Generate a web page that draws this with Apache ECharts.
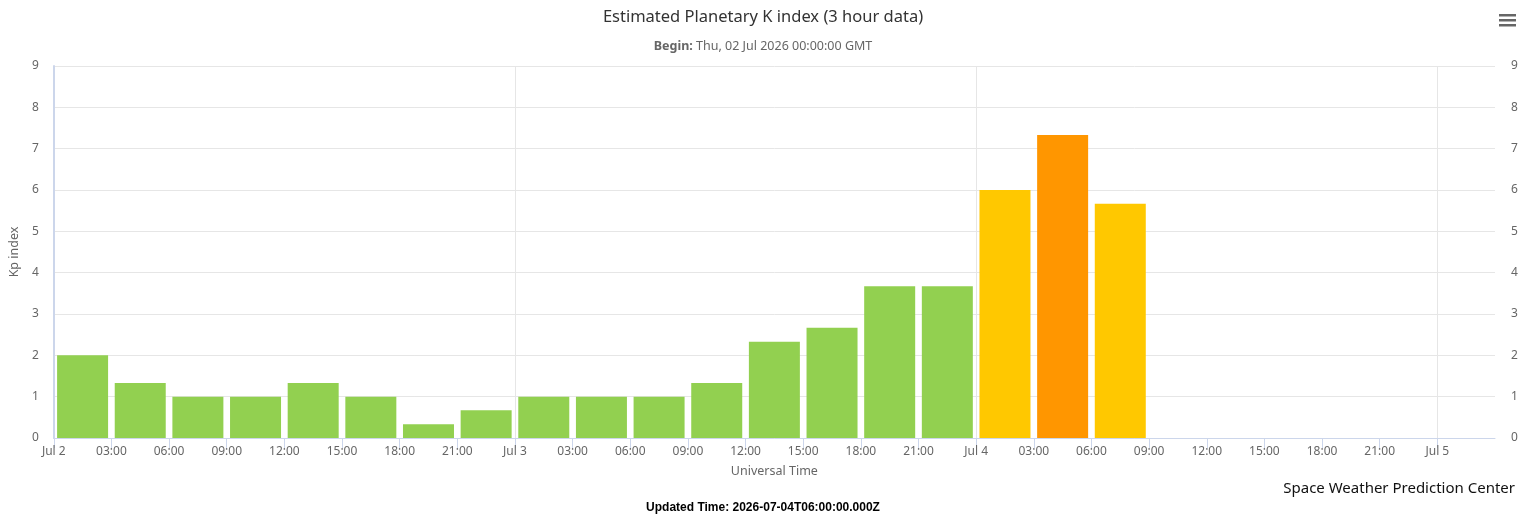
<!DOCTYPE html>
<html>
<head>
<meta charset="utf-8">
<script src="https://cdn.jsdelivr.net/npm/echarts@6/dist/echarts.min.js"></script>
<style>
  html, body { margin: 0; padding: 0; background: #fff; }
  #kp-chart { width: 1526px; height: 516px; }
</style>
</head>
<body>
<div id="kp-chart"></div>
<script>
// 3 hour bins, start time of each bin (UTC)
const binStarts = [
    '2026-07-02T00:00:00Z', '2026-07-02T03:00:00Z', '2026-07-02T06:00:00Z', '2026-07-02T09:00:00Z',
    '2026-07-02T12:00:00Z', '2026-07-02T15:00:00Z', '2026-07-02T18:00:00Z', '2026-07-02T21:00:00Z',
    '2026-07-03T00:00:00Z', '2026-07-03T03:00:00Z', '2026-07-03T06:00:00Z', '2026-07-03T09:00:00Z',
    '2026-07-03T12:00:00Z', '2026-07-03T15:00:00Z', '2026-07-03T18:00:00Z', '2026-07-03T21:00:00Z',
    '2026-07-04T00:00:00Z', '2026-07-04T03:00:00Z', '2026-07-04T06:00:00Z'
];
const kpValues = [
    2, 1.33, 1, 1, 1.33, 1, 0.33, 0.67,
    1, 1, 1, 1.33, 2.33, 2.67, 3.67, 3.67,
    6, 7.33, 5.67
];
const monthNames = ['Jan', 'Feb', 'Mar', 'Apr', 'May', 'Jun', 'Jul', 'Aug', 'Sep', 'Oct', 'Nov', 'Dec'];

const HOUR = 3600 * 1000;
const axisStart = Date.UTC(2026, 6, 2, 0);
const axisEnd = Date.UTC(2026, 6, 5, 3);

function kpColor(kp) {
    if (kp >= 7) {
        return '#ff9600';
    }
    if (kp >= 5) {
        return '#ffc800';
    }
    return '#92d050';
}

function timeLabel(value) {
    let d = new Date(value);
    if (d.getUTCHours() == 0) {
        return monthNames[d.getUTCMonth()] + ' ' + d.getUTCDate();
    }
    let h = d.getUTCHours();
    return (h < 10 ? '0' + h : h) + ':00';
}

// bars are centred in the middle of their 3 hour bin
let barData = [];
for (let i = 0; i < binStarts.length; i++) {
    let t = Date.parse(binStarts[i]) + 1.5 * HOUR;
    barData.push({
        value: [t, kpValues[i]],
        itemStyle: { color: kpColor(kpValues[i]) }
    });
}

let kpChart = echarts.init(document.getElementById('kp-chart'));
let fontMain = '"Noto Sans", "DejaVu Sans", sans-serif';

let option = {
    animation: false,
    textStyle: { fontFamily: fontMain },
    title: [
        {
            text: 'Estimated Planetary K index (3 hour data)',
            left: 'center',
            top: 4,
            textStyle: { fontSize: 16.5, fontWeight: 'normal', color: '#333', fontFamily: fontMain }
        },
        {
            text: '{b|Begin:} Thu, 02 Jul 2026 00:00:00 GMT',
            left: 'center',
            top: 35,
            textStyle: {
                fontSize: 12.5, fontWeight: 'normal', color: '#666', fontFamily: fontMain,
                rich: {
                    b: { fontSize: 12.5, fontWeight: 'bold', color: '#666', fontFamily: fontMain }
                }
            }
        },
        {
            text: 'Space Weather Prediction Center',
            right: 6,
            top: 476,
            textStyle: { fontSize: 15, fontWeight: 'normal', color: '#111', fontFamily: fontMain }
        },
        {
            text: 'Updated Time: 2026-07-04T06:00:00.000Z',
            left: 'center',
            top: 497,
            textStyle: { fontSize: 12, fontWeight: 'bold', color: '#000', fontFamily: '"Liberation Sans", Arial, sans-serif' }
        }
    ],
    graphic: [
        { type: 'rect', shape: { x: 1499, y: 14, width: 17, height: 2.5 }, style: { fill: '#666' } },
        { type: 'rect', shape: { x: 1499, y: 19, width: 17, height: 2.5 }, style: { fill: '#666' } },
        { type: 'rect', shape: { x: 1499, y: 24, width: 17, height: 2.5 }, style: { fill: '#666' } }
    ],
    grid: {
        left: 53,
        right: 31,
        top: 66,
        bottom: 78,
        containLabel: false
    },
    xAxis: [
        {
            type: 'value',
            min: axisStart,
            max: axisEnd,
            interval: 3 * HOUR,
            name: 'Universal Time',
            nameLocation: 'middle',
            nameGap: 27,
            nameTextStyle: { fontSize: 12.5, color: '#666' },
            axisLine: { show: true, lineStyle: { color: '#ccd6eb', width: 1 } },
            axisTick: { show: true, length: 10, lineStyle: { color: '#ccd6eb' } },
            axisLabel: {
                fontSize: 12,
                color: '#666',
                margin: 8,
                showMaxLabel: false,
                formatter: timeLabel
            },
            splitLine: { show: false }
        },
        {
            // day boundaries only
            type: 'value',
            min: axisStart,
            max: axisEnd,
            interval: 24 * HOUR,
            position: 'bottom',
            axisLine: { show: false },
            axisTick: { show: false },
            axisLabel: { show: false },
            splitLine: {
                show: true,
                showMinLine: false,
                showMaxLine: false,
                lineStyle: { color: '#e6e6e6', width: 1 }
            }
        }
    ],
    yAxis: [
        {
            type: 'value',
            min: 0,
            max: 9,
            interval: 1,
            name: 'Kp index',
            nameLocation: 'middle',
            nameGap: 31,
            nameTextStyle: { fontSize: 12.5, color: '#666' },
            axisLine: { show: true, lineStyle: { color: '#ccd6eb', width: 2 } },
            axisTick: { show: false },
            axisLabel: { fontSize: 12, color: '#666', margin: 15 },
            splitLine: { show: true, lineStyle: { color: '#e6e6e6', width: 1 } }
        },
        {
            type: 'value',
            min: 0,
            max: 9,
            interval: 1,
            position: 'right',
            axisLine: { show: false },
            axisTick: { show: false },
            axisLabel: { fontSize: 12, color: '#666', margin: 16 },
            splitLine: { show: false }
        }
    ],
    series: [
        {
            name: 'Kp',
            type: 'bar',
            xAxisIndex: 0,
            yAxisIndex: 0,
            barWidth: 51,
            data: barData
        }
    ]
};

kpChart.setOption(option);
window.addEventListener('resize', function () {
    kpChart.resize();
});
</script>
</body>
</html>
